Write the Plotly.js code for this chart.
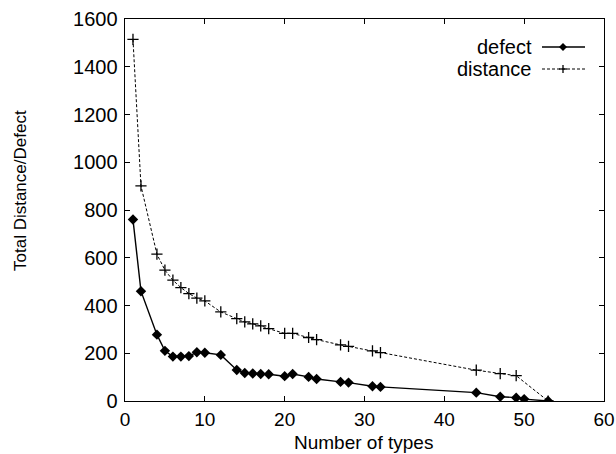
<!DOCTYPE html>
<html><head><meta charset="utf-8">
<script src="https://cdn.plot.ly/plotly-3.0.1.min.js"></script>
<style>html,body{margin:0;padding:0;background:#fff}#c{width:616px;height:454px}</style>
</head><body><div id="c"></div>
<script>
const defectX = [1, 2, 4, 5, 6, 7, 8, 9, 10, 12, 14, 15, 16, 17, 18, 20, 21, 23, 24, 27, 28, 31, 32, 44, 47, 49, 50, 53];
const defectY = [760, 460, 278, 210, 186, 186, 188, 204, 202, 193, 130, 117, 115, 113, 112, 104, 113, 101, 92, 80, 77, 62, 59, 35, 18, 14, 8, 0];
const distanceX = [1, 2, 4, 5, 6, 7, 8, 9, 10, 12, 14, 15, 16, 17, 18, 20, 21, 23, 24, 27, 28, 31, 32, 44, 47, 49, 53];
const distanceY = [1515, 901, 615, 548, 506, 475, 450, 431, 419, 373, 345, 331, 323, 315, 303, 283, 283, 266, 257, 235, 229, 210, 203, 129, 115, 106, 0];
const xTicks = [0, 10, 20, 30, 40, 50, 60];
const yTicks = [0, 200, 400, 600, 800, 1000, 1200, 1400, 1600];
const seriesNames = ['defect', 'distance'];
const xTitle = 'Number of types';
const yTitle = 'Total Distance/Defect';

const F = 'Liberation Sans, Arial, Helvetica, sans-serif';
const traces = [
  {x: defectX, y: defectY, name: seriesNames[0], mode: 'lines+markers', type: 'scatter',
   line: {color: '#000', width: 1.4}, marker: {symbol: 'diamond', size: 8, color: '#000'}},
  {x: distanceX, y: distanceY, name: seriesNames[1], mode: 'lines+markers', type: 'scatter',
   line: {color: '#000', width: 1, dash: '3px,2px'},
   marker: {symbol: 'cross-thin', size: 8, color: '#000', line: {color: '#000', width: 1.3}}}
];

const L = 125, R = 604, T = 19, B = 401, W = 616, H = 454;
const px = v => (v - L) / (R - L);
const py = v => (B - v) / (B - T);
const legendRows = [47, 69];
const shapes = [];
const annotations = [];
legendRows.forEach((yy, i) => {
  annotations.push({xref: 'paper', yref: 'paper', x: px(534), y: py(yy), xanchor: 'right', yanchor: 'middle',
    text: seriesNames[i], showarrow: false, font: {family: F, size: 20, color: '#000'}});
  shapes.push({type: 'line', xref: 'paper', yref: 'paper', x0: px(542), x1: px(585), y0: py(yy), y1: py(yy),
    line: {color: '#000', width: i === 0 ? 1.4 : 1, dash: i === 0 ? 'solid' : '3px,2px'}});
});
const cx = 563;
shapes.push({type: 'path', xref: 'paper', yref: 'paper',
  path: `M ${px(cx-4)} ${py(47)} L ${px(cx)} ${py(43)} L ${px(cx+4)} ${py(47)} L ${px(cx)} ${py(51)} Z`,
  fillcolor: '#000', line: {color: '#000', width: 0}});
shapes.push({type: 'line', xref: 'paper', yref: 'paper', x0: px(cx-4), x1: px(cx+4), y0: py(69), y1: py(69), line: {color: '#000', width: 1.3}});
shapes.push({type: 'line', xref: 'paper', yref: 'paper', x0: px(cx), x1: px(cx), y0: py(65), y1: py(73), line: {color: '#000', width: 1.3}});

annotations.push({xref: 'paper', yref: 'paper', x: px(363.5), y: py(442), xanchor: 'center', yanchor: 'middle',
  text: xTitle, showarrow: false, font: {family: F, size: 19, color: '#000'}});
annotations.push({xref: 'paper', yref: 'paper', x: px(20), y: py(191), xanchor: 'center', yanchor: 'middle',
  textangle: -90, text: yTitle, showarrow: false, font: {family: F, size: 17, color: '#000'}});

const axisCommon = {
  showgrid: false, zeroline: false, showline: true, linecolor: '#000', linewidth: 1.4,
  mirror: 'ticks', ticks: 'inside', ticklen: 5, tickwidth: 1, tickcolor: '#000',
  tickfont: {family: F, size: 20, color: '#000'}
};
const layout = {
  width: W, height: H, paper_bgcolor: '#fff', plot_bgcolor: '#fff',
  margin: {l: L, r: W - R, t: T, b: H - B},
  showlegend: false,
  xaxis: Object.assign({}, axisCommon, {range: [0, 60], tickvals: xTicks, ticktext: xTicks.map(String), ticklabelstandoff: 1,
    tickfont: {family: F, size: 19, color: '#000'}}),
  yaxis: Object.assign({}, axisCommon, {range: [0, 1600], tickvals: yTicks, ticktext: yTicks.map(String), ticklabelstandoff: 2}),
  shapes: shapes, annotations: annotations
};
Plotly.newPlot('c', traces, layout, {displayModeBar: false, staticPlot: true});
</script></body></html>
